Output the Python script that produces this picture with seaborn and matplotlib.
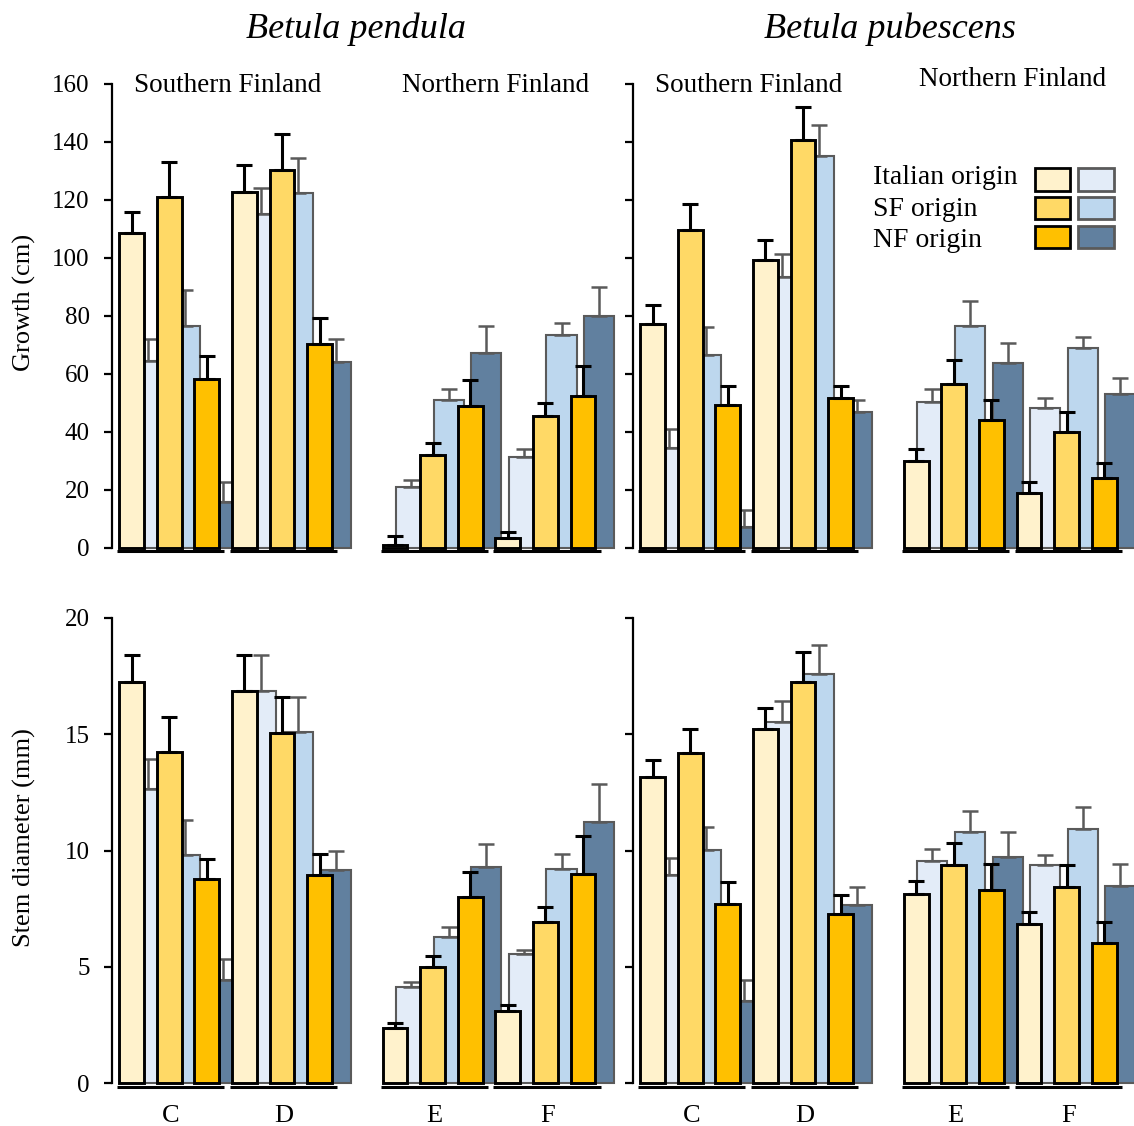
import numpy as np
import pandas as pd
import matplotlib
matplotlib.use("Agg")
import matplotlib.pyplot as plt
import seaborn as sns
from matplotlib.patches import Rectangle

sns.set_theme(style="ticks")
plt.rcParams['font.family'] = ['Liberation Serif', 'DejaVu Serif']
plt.rcParams['text.color'] = 'black'
plt.rcParams['axes.labelcolor'] = 'black'
plt.rcParams['xtick.color'] = 'black'
plt.rcParams['ytick.color'] = 'black'

# ---------------- data ----------------
origins = ['Italian', 'SF', 'NF']
groups_south = ['C', 'D']
groups_north = ['E', 'F']
legend_labels = ['Italian origin', 'SF origin', 'NF origin']

# Growth (cm) -- order: Italian, SF, NF of first group, then of second group
growth_pend_S_yel = [108.6, 120.9, 58.2, 122.9, 130.5, 70.5]
growth_pend_S_yel_se = [7.4, 12.3, 8.0, 9.1, 12.4, 8.9]
growth_pend_S_blu = [64.4, 76.4, 15.7, 115.2, 122.4, 64.2]
growth_pend_S_blu_se = [7.8, 12.4, 7.2, 9.1, 12.0, 7.9]

growth_pend_N_yel = [1.0, 32.1, 49.0, 3.4, 45.6, 52.4]
growth_pend_N_yel_se = [3.0, 4.0, 8.9, 2.0, 4.5, 10.3]
growth_pend_N_blu = [20.9, 51.0, 67.4, 31.5, 73.3, 79.9]
growth_pend_N_blu_se = [2.6, 3.7, 9.0, 2.5, 4.3, 10.1]

growth_pub_S_yel = [77.2, 109.6, 49.4, 99.4, 140.8, 51.8]
growth_pub_S_yel_se = [6.6, 8.9, 6.6, 6.7, 11.3, 4.2]
growth_pub_S_blu = [34.5, 66.6, 7.3, 93.6, 135.1, 46.9]
growth_pub_S_blu_se = [6.6, 9.5, 5.8, 7.7, 10.6, 4.0]

growth_pub_N_yel = [29.9, 56.6, 44.0, 19.1, 40.0, 24.2]
growth_pub_N_yel_se = [4.4, 8.4, 6.9, 3.7, 6.9, 5.1]
growth_pub_N_blu = [50.3, 76.7, 63.8, 48.4, 69.0, 53.2]
growth_pub_N_blu_se = [4.4, 8.6, 6.8, 3.3, 3.7, 5.5]

# Stem diameter (mm)
diam_pend_S_yel = [17.24, 14.25, 8.76, 16.88, 15.06, 8.94]
diam_pend_S_yel_se = [1.19, 1.51, 0.87, 1.55, 1.53, 0.90]
diam_pend_S_blu = [12.64, 9.80, 4.45, 16.88, 15.11, 9.15]
diam_pend_S_blu_se = [1.30, 1.52, 0.89, 1.51, 1.48, 0.84]

diam_pend_N_yel = [2.38, 4.97, 8.00, 3.10, 6.92, 8.99]
diam_pend_N_yel_se = [0.20, 0.51, 1.06, 0.24, 0.64, 1.63]
diam_pend_N_blu = [4.11, 6.30, 9.28, 5.53, 9.22, 11.24]
diam_pend_N_blu_se = [0.24, 0.43, 0.98, 0.19, 0.61, 1.61]

diam_pub_S_yel = [13.18, 14.19, 7.70, 15.24, 17.26, 7.27]
diam_pub_S_yel_se = [0.73, 1.05, 0.94, 0.90, 1.27, 0.80]
diam_pub_S_blu = [8.93, 10.02, 3.53, 15.53, 17.58, 7.64]
diam_pub_S_blu_se = [0.73, 0.97, 0.90, 0.91, 1.27, 0.80]

diam_pub_N_yel = [8.15, 9.36, 8.32, 6.85, 8.44, 6.01]
diam_pub_N_yel_se = [0.53, 0.98, 1.11, 0.49, 0.92, 0.91]
diam_pub_N_blu = [9.55, 10.81, 9.72, 9.36, 10.92, 8.49]
diam_pub_N_blu_se = [0.53, 0.90, 1.08, 0.43, 0.93, 0.94]

# ---------------- style ----------------
yel_colors = {'Italian': '#FFF2CC', 'SF': '#FFD966', 'NF': '#FFC000'}
blu_colors = {'Italian': '#E3ECF8', 'SF': '#BDD7EE', 'NF': '#61809F'}
YEL_EDGE = '#000000'
BLU_EDGE = '#5A5A5A'
BLUE_SHIFT = 0.43

W, H = 1134, 1126
fig = plt.figure(figsize=(W / 100, H / 100), dpi=100)

unit = 37.6
xlim = (-0.52, 5.88)
ax_w_px = (xlim[1] - xlim[0]) * unit
panel_left_px = [112, 375.4, 633, 896.7]
rows_px = [(84, 548), (618, 1083)]


def add_ax(left, top, bottom):
    return fig.add_axes([left / W, 1 - bottom / H, ax_w_px / W, (bottom - top) / H])


def draw_panel(ax, yel, yel_se, blu, blu_se, ymax, yticks, uline_y,
               col, xlabels):
    pos = np.arange(6, dtype=float)
    org = origins * 2
    df_b = pd.DataFrame({'x': pos + BLUE_SHIFT, 'v': blu, 'origin': org})
    df_y = pd.DataFrame({'x': pos, 'v': yel, 'origin': org})
    sns.barplot(data=df_b, x='x', y='v', hue='origin', palette=blu_colors,
                hue_order=origins, native_scale=True, dodge=False, width=0.8,
                saturation=1, edgecolor=BLU_EDGE, linewidth=1.5, errorbar=None,
                legend=False, ax=ax, zorder=1, clip_on=False)
    ax.errorbar(pos + BLUE_SHIFT, blu, yerr=[np.zeros(6), blu_se], fmt='none',
                ecolor=BLU_EDGE, elinewidth=1.8, capsize=5.5, capthick=1.8,
                zorder=1.5, clip_on=False)
    sns.barplot(data=df_y, x='x', y='v', hue='origin', palette=yel_colors,
                hue_order=origins, native_scale=True, dodge=False, width=0.66,
                saturation=1, edgecolor=YEL_EDGE, linewidth=2.1, errorbar=None,
                legend=False, ax=ax, zorder=2, clip_on=False)
    ax.errorbar(pos, yel, yerr=[np.zeros(6), yel_se], fmt='none',
                ecolor=YEL_EDGE, elinewidth=2.2, capsize=5.5, capthick=2.2,
                zorder=2.5, clip_on=False)
    # group underlines
    for g in range(2):
        ax.plot([g * 3 - 0.38, g * 3 + 2.47], [uline_y, uline_y], color='black',
                lw=2.2, clip_on=False, solid_capstyle='butt', zorder=3)
    ax.set_xlim(*xlim)
    ax.set_ylim(0, ymax)
    ax.set_xlabel('')
    ax.set_ylabel('')
    for s in ['top', 'right', 'bottom']:
        ax.spines[s].set_visible(False)
    if col in (0, 2):
        ax.spines['left'].set_linewidth(1.6)
        ax.spines['left'].set_color('black')
        ax.set_yticks(yticks)
        ax.tick_params(axis='y', left=True, direction='out', length=6,
                       width=1.6, colors='black', labelsize=18,
                       labelleft=(col == 0), pad=10)
    else:
        ax.spines['left'].set_visible(False)
        ax.set_yticks([])
        ax.tick_params(axis='y', left=False, labelleft=False)
    if xlabels is None:
        ax.set_xticks([])
    else:
        ax.set_xticks([1.05, 4.05])
        ax.set_xticklabels(xlabels)
    ax.tick_params(axis='x', bottom=False, labelsize=19, pad=10, colors='black')
    ax.patch.set_alpha(0)


top_data = [
    (growth_pend_S_yel, growth_pend_S_yel_se, growth_pend_S_blu, growth_pend_S_blu_se),
    (growth_pend_N_yel, growth_pend_N_yel_se, growth_pend_N_blu, growth_pend_N_blu_se),
    (growth_pub_S_yel, growth_pub_S_yel_se, growth_pub_S_blu, growth_pub_S_blu_se),
    (growth_pub_N_yel, growth_pub_N_yel_se, growth_pub_N_blu, growth_pub_N_blu_se),
]
bot_data = [
    (diam_pend_S_yel, diam_pend_S_yel_se, diam_pend_S_blu, diam_pend_S_blu_se),
    (diam_pend_N_yel, diam_pend_N_yel_se, diam_pend_N_blu, diam_pend_N_blu_se),
    (diam_pub_S_yel, diam_pub_S_yel_se, diam_pub_S_blu, diam_pub_S_blu_se),
    (diam_pub_N_yel, diam_pub_N_yel_se, diam_pub_N_blu, diam_pub_N_blu_se),
]
group_labels = [groups_south, groups_north, groups_south, groups_north]

for col in range(4):
    ax = add_ax(panel_left_px[col], *rows_px[0])
    y, ys, b, bs = top_data[col]
    draw_panel(ax, y, ys, b, bs, 160, np.arange(0, 161, 20), -1.2, col, None)
    ax = add_ax(panel_left_px[col], *rows_px[1])
    y, ys, b, bs = bot_data[col]
    draw_panel(ax, y, ys, b, bs, 20, np.arange(0, 21, 5), -0.17, col,
               group_labels[col])

# species titles
fig.text(356 / W, 1 - 29 / H, 'Betula pendula', style='italic', fontsize=26,
         ha='center', va='center')
fig.text(890 / W, 1 - 29 / H, 'Betula pubescens', style='italic', fontsize=26,
         ha='center', va='center')

# region subtitles
for cx, cy, txt in [(228, 85, 'Southern Finland'), (496, 85, 'Northern Finland'),
                    (749, 85, 'Southern Finland'), (1013, 80, 'Northern Finland')]:
    fig.text(cx / W, 1 - cy / H, txt, fontsize=19.5, ha='center', va='center')

# y labels
fig.text(24 / W, 1 - 302 / H, 'Growth (cm)', rotation=90, fontsize=19,
         ha='center', va='center')
fig.text(24 / W, 1 - 838 / H, 'Stem diameter (mm)', rotation=90, fontsize=19,
         ha='center', va='center')

# legend (drawn manually in the upper right panel)
leg_rows = [(168, 191), (197, 219), (226, 248)]
leg_text_y = [177, 209, 241]
for (yt, yb), ty, lab, o in zip(leg_rows, leg_text_y, legend_labels, origins):
    fig.text(873 / W, 1 - ty / H, lab, fontsize=20,
             ha='left', va='center')
    fig.add_artist(Rectangle((1035 / W, 1 - yb / H), 35 / W, (yb - yt) / H,
                             transform=fig.transFigure, facecolor=yel_colors[o],
                             edgecolor=YEL_EDGE, lw=2.0))
    fig.add_artist(Rectangle((1078 / W, 1 - yb / H), 36 / W, (yb - yt) / H,
                             transform=fig.transFigure, facecolor=blu_colors[o],
                             edgecolor=BLU_EDGE, lw=2.0))

fig.savefig('out.png', dpi=100)
